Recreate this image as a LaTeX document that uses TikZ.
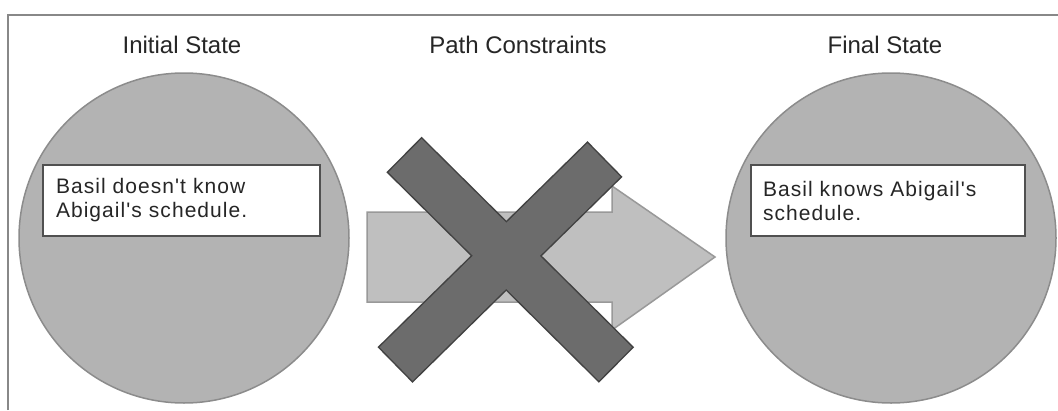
\documentclass[tikz,border=0pt]{standalone}
\usepackage{fontspec}
\setmainfont{Liberation Sans}
\newfontfamily\titlefont{Liberation Sans}
\newfontfamily\boxfont[LetterSpace=5]{Liberation Sans}
\definecolor{framegray}{HTML}{888888}
\definecolor{circfill}{HTML}{B3B3B3}
\definecolor{circline}{HTML}{8C8C8C}
\definecolor{arrfill}{HTML}{BFBFBF}
\definecolor{arrline}{HTML}{999999}
\definecolor{xfill}{HTML}{6C6C6C}
\definecolor{xline}{HTML}{424242}
\definecolor{boxline}{HTML}{505050}
\definecolor{txt}{HTML}{262626}
\begin{document}
\begin{tikzpicture}[x=1pt,y=-1pt,
  titletext/.style={font=\titlefont\fontsize{24}{28}\selectfont, text=txt, anchor=base, inner sep=0pt},
  statecircle/.style={circle, fill=circfill, draw=circline, line width=1.5pt, minimum size=330pt, inner sep=0pt},
  statebox/.style={rectangle, fill=white, draw=boxline, line width=1.8pt, minimum height=71pt,
     align=left, font=\boxfont\fontsize{21}{24}\selectfont, text=txt, inner ysep=0pt},
  xborder/.style={draw=xline, line width=50pt},
  xinner/.style={draw=xfill, line width=47pt, shorten <=1.5pt, shorten >=1.5pt}
]
\useasboundingbox (0,0) rectangle (1058,410);
\fill[white] (0,0) rectangle (1058,410);
% frame
\coordinate (fTL) at (8,15);
\coordinate (fTR) at (1058,15);
\coordinate (fBL) at (8,410);
\draw[framegray, line width=2pt] (fBL) -- (fTL) -- (fTR);

% titles
\node[titletext] (tInit) at (182,53) {Initial State};
\node[titletext] (tPath) at (518,53) {Path Constraints};
\node[titletext] (tFinal) at (885,53) {Final State};

% circles
\node[statecircle] (cInit) at (184,238) {};
\node[statecircle] (cFinal) at (891,238) {};

% text boxes
\node[statebox, minimum width=277pt, text width=251pt, inner xsep=13pt] (bInit) at (181.5,200.5)
  {Basil doesn't know\\Abigail's schedule.};
\node[statebox, minimum width=274pt, text width=250pt, inner xsep=12pt] (bFinal) at (888,200.5)
  {Basil knows Abigail's\\schedule.};

% arrow
\draw[fill=arrfill, draw=arrline, line width=1.5pt]
  (367,212) -- (612,212) -- (612,186) -- (715,257) -- (612,330) -- (612,302) -- (367,302) -- cycle;

% X
\coordinate (xa1) at (404,154.5);
\coordinate (xa2) at (616.5,365);
\coordinate (xb1) at (605,159);
\coordinate (xb2) at (395,365);
\draw[xborder] (xa1) -- (xa2);
\draw[xborder] (xb1) -- (xb2);
\draw[xinner] (xa1) -- (xa2);
\draw[xinner] (xb1) -- (xb2);
\end{tikzpicture}
\end{document}
